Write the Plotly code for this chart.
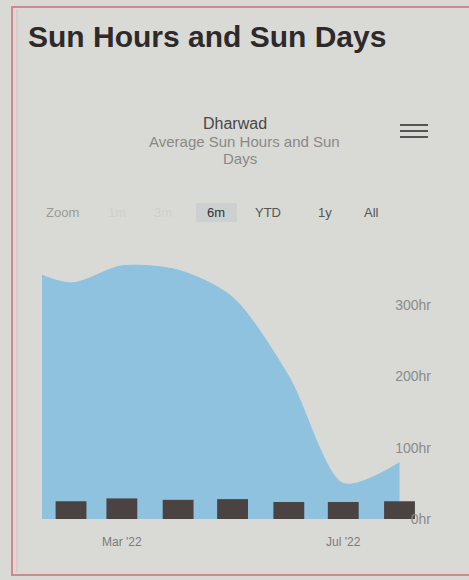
import plotly.graph_objects as go

# ---- data ----
area_dates = ["2022-01-01", "2022-02-01", "2022-03-01", "2022-04-01",
              "2022-05-01", "2022-06-01", "2022-07-01", "2022-08-01"]
sun_hours = [358, 331, 355, 349, 311, 200, 50, 79]

bar_dates = ["2022-02-01", "2022-03-01", "2022-04-01", "2022-05-01",
             "2022-06-01", "2022-07-01", "2022-08-01"]
sun_days = [25, 29, 27, 28, 24, 24, 25]

y_tickvals = [0, 100, 200, 300]
y_ticktext = ["0hr", "100hr", "200hr", "300hr"]
x_tickvals = ["2022-03-01", "2022-07-01"]
x_ticktext = ["Mar '22", "Jul '22"]

W, H = 469, 580
BG = "#d9dad6"
AREA = "#8fc2df"
BAR = "#4a4341"
FONT = "Liberation Sans, Arial, sans-serif"
Y_RANGE = [-15, 380]


def px(x):
    return x / W


def py(y):
    return 1 - y / H


fig = go.Figure()
fig.add_trace(go.Scatter(
    x=area_dates, y=sun_hours, mode="lines", fill="tozeroy",
    line=dict(color=AREA, width=1, shape="spline", smoothing=0.8),
    fillcolor=AREA, name="Sun Hours", hoverinfo="x+y"))
fig.add_trace(go.Bar(
    x=bar_dates, y=sun_days, marker=dict(color=BAR, line=dict(width=0)),
    width=17 * 86400000, name="Sun Days", yaxis="y2"))

# zero line sits at y=519 px; axis extends a little below so the 0hr label shows
fig.update_layout(
    width=W, height=H, autosize=False,
    margin=dict(l=0, r=0, t=0, b=0, pad=0),
    paper_bgcolor=BG, plot_bgcolor=BG,
    showlegend=False,
    font=dict(family=FONT, color="#777"),
    xaxis=dict(
        type="date", domain=[px(42), px(434)],
        range=["2022-01-16", "2022-08-20"],
        tickvals=x_tickvals, ticktext=x_ticktext,
        showgrid=False, zeroline=False, showline=False, ticks="",
        tickfont=dict(size=12, color="#7a7a78"), ticklabelstandoff=3,
        fixedrange=True),
    yaxis=dict(
        domain=[py(529.8), py(248)], range=Y_RANGE, side="right",
        tickvals=y_tickvals, ticktext=y_ticktext,
        ticklabelposition="inside",
        showgrid=False, zeroline=False, showline=False, ticks="",
        tickfont=dict(size=14, color="#8a8a88"), fixedrange=True),
    yaxis2=dict(
        overlaying="y", range=Y_RANGE, side="right", showticklabels=False,
        showgrid=False, zeroline=False, showline=False, ticks="",
        fixedrange=True),
)

# title and subtitles
fig.add_annotation(x=px(26), y=py(37), xref="paper", yref="paper",
                   text="<b>Sun Hours and Sun Days</b>", showarrow=False,
                   xanchor="left", yanchor="middle",
                   font=dict(size=30, color="#2e2a2b", family=FONT))
fig.add_annotation(x=px(235), y=py(124), xref="paper", yref="paper",
                   text="Dharwad", showarrow=False,
                   xanchor="center", yanchor="middle",
                   font=dict(size=16, color="#4a4646", family=FONT))
fig.add_annotation(x=px(245), y=py(141), xref="paper", yref="paper",
                   text="Average Sun Hours and Sun", showarrow=False,
                   xanchor="center", yanchor="middle",
                   font=dict(size=15, color="#8a8886", family=FONT))
fig.add_annotation(x=px(240), y=py(158), xref="paper", yref="paper",
                   text="Days", showarrow=False,
                   xanchor="center", yanchor="middle",
                   font=dict(size=15, color="#8a8886", family=FONT))

# range selector row
buttons = [("Zoom", 62, "#9a9a98"), ("1m", 117, "#cfcfcb"), ("3m", 163, "#cfcfcb"),
           ("6m", 216, "#333"), ("YTD", 268, "#555"), ("1y", 325, "#555"),
           ("All", 371, "#555")]
for txt, x, c in buttons:
    fig.add_annotation(x=px(x), y=py(212), xref="paper", yref="paper",
                       text=txt, showarrow=False, xanchor="center",
                       yanchor="middle", font=dict(size=13, color=c, family=FONT))
fig.add_shape(type="rect", xref="paper", yref="paper",
              x0=px(196), x1=px(237), y0=py(203), y1=py(222),
              fillcolor="#cdd0d0", line=dict(width=0), layer="below")

# menu icon
for yy in (125, 131, 137):
    fig.add_shape(type="line", xref="paper", yref="paper",
                  x0=px(400), x1=px(428), y0=py(yy), y1=py(yy),
                  line=dict(color="#555", width=2))

# red frame
fig.add_shape(type="rect", xref="paper", yref="paper",
              x0=px(12), x1=px(480), y0=py(575), y1=py(7),
              line=dict(color="#d4868e", width=2))
fig.add_shape(type="line", xref="paper", yref="paper",
              x0=px(17), x1=px(17), y0=py(572), y1=py(10),
              line=dict(color="#e3b8bc", width=1))

fig.write_html(
    "out.html",
    config={"displayModeBar": False},
    post_script="document.body.style.margin='0';"
                "document.body.style.overflow='hidden';"
                "document.body.style.background='" + BG + "';")
